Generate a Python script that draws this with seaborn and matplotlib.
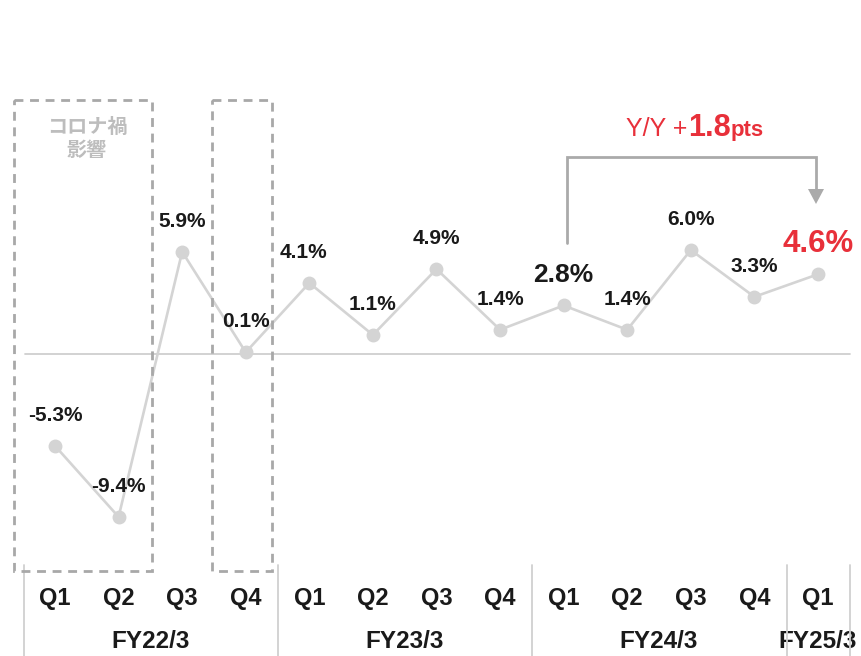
import matplotlib
matplotlib.use("Agg")
import matplotlib.pyplot as plt
import seaborn as sns
import pandas as pd
from matplotlib.patches import Rectangle, Polygon
from matplotlib.lines import Line2D
from matplotlib.transforms import blended_transform_factory, Affine2D

quarters = ["Q1", "Q2", "Q3", "Q4", "Q1", "Q2", "Q3", "Q4", "Q1", "Q2", "Q3", "Q4", "Q1"]
fiscal_years = ["FY22/3", "FY23/3", "FY24/3", "FY25/3"]
fy_quarter_count = [4, 4, 4, 1]
values = [-5.3, -9.4, 5.9, 0.1, 4.1, 1.1, 4.9, 1.4, 2.8, 1.4, 6.0, 3.3, 4.6]
labels = ["-5.3%", "-9.4%", "5.9%", "0.1%", "4.1%", "1.1%", "4.9%", "1.4%", "2.8%", "1.4%", "6.0%", "3.3%", "4.6%"]
covid_text = "コロナ禍\n影響"
yy_parts = ["Y/Y +", "1.8", "pts"]

sns.set_theme(style="white")
plt.rcParams["font.family"] = ["Liberation Sans", "Noto Sans CJK JP", "DejaVu Sans"]

W, H = 861, 656
fig = plt.figure(figsize=(W / 100, H / 100), dpi=100)
ax = fig.add_axes([0, 0, 1, 1])

# pixel mapping
x0px, dxpx = 55, 63.58
y0px, dypx = 354, 17.33

# pixel transform (top-left origin)
pix = Affine2D().scale(1 / W, -1 / H).translate(0, 1) + fig.transFigure

GRAY_LINE = "#d4d4d4"
DASH = "#a8a8a8"
TXT = "#1a1a1a"
RED = "#e8303a"

df = pd.DataFrame({"idx": range(len(values)), "value": values})

# zero line
ax.add_line(Line2D([25, 850], [354, 354], transform=pix, color="#cfcfcf", lw=1.3, zorder=1))

sns.lineplot(data=df, x="idx", y="value", ax=ax, color=GRAY_LINE, lw=1.9,
             marker="o", markersize=10, markeredgewidth=0, markerfacecolor=GRAY_LINE, zorder=3)
ax.set_xlim(-x0px / dxpx, (W - x0px) / dxpx)
ax.set_ylim((y0px - H) / dypx, y0px / dypx)
ax.axis("off")

# value labels
for i, (v, lab) in enumerate(zip(values, labels)):
    size, color, dx = 15, TXT, 0
    if i == 8:
        size = 19
    if i == len(values) - 1:
        size, color = 22.5, RED
    if i == 4:
        dx = -4
    ax.annotate(lab, (i, v), xytext=(dx, 22), textcoords="offset points",
                ha="center", va="center", fontsize=size, fontweight="bold", color=color, zorder=5)

# dashed boxes
for (l, r) in [(14, 152), (212, 272)]:
    fig.patches.append(Rectangle((l, 100), r - l, 471, transform=pix, fill=False,
                                 edgecolor=DASH, lw=2, ls=(0, (3.2, 2.4)), zorder=2))
fig.text(87, 139, covid_text, transform=pix, ha="center", va="center", fontsize=14.5,
         fontweight="bold", color="#bdbdbd", linespacing=1.3)

# quarter labels
bt = blended_transform_factory(ax.transData, pix)
for i, q in enumerate(quarters):
    ax.text(i, 598, q, transform=bt, ha="center", va="center", fontsize=17,
            fontweight="bold", color=TXT)

# year separators and labels
seps = [24, 278, 532, 787, 850]
for s in seps:
    fig.lines.append(Line2D([s, s], [565, 656], transform=pix, color="#d0d0d0", lw=1.3))
start = 0
for fy, n in zip(fiscal_years, fy_quarter_count):
    center = start + (n - 1) / 2
    ax.text(center, 641, fy, transform=bt, ha="center", va="center", fontsize=17.5,
            fontweight="bold", color=TXT)
    start += n

# bracket arrow
fig.lines.append(Line2D([567, 567, 816, 816], [243, 157, 157, 190], transform=pix,
                        color="#aaaaaa", lw=2, solid_joinstyle="miter"))
fig.patches.append(Polygon([[808, 189], [824, 189], [816, 204]], closed=True,
                           transform=pix, facecolor="#aaaaaa", edgecolor="none"))

# Y/Y text
fig.canvas.draw()
renderer = fig.canvas.get_renderer()
specs = [(yy_parts[0], 18, "normal"), (yy_parts[1], 22, "bold"), (yy_parts[2], 16, "bold")]
texts = []
total = 0
for s, fs, fw in specs:
    t = fig.text(0, 0, s, fontsize=fs, fontweight=fw, color=RED)
    w = t.get_window_extent(renderer).width
    texts.append((t, w))
    total += w
x = 695 - total / 2
for t, w in texts:
    t.set_transform(pix)
    t.set_position((x, 136))
    t.set_va("baseline")
    x += w

fig.savefig("out.png", dpi=100)
